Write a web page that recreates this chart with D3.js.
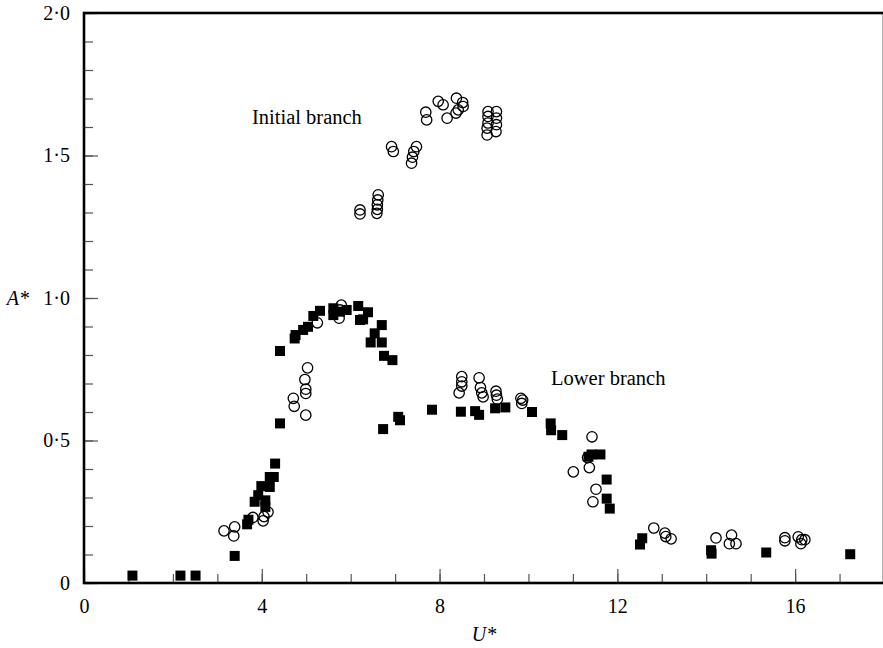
<!DOCTYPE html>
<html>
<head>
<meta charset="utf-8">
<script src="https://cdn.jsdelivr.net/npm/d3@7"></script>
<style>
  body { margin: 0; background: #fff; }
  svg { display: block; font-family: "Liberation Serif", "Times New Roman", serif; }
  .tick line { stroke: #555; stroke-width: 1.2; }
  .domain { display: none; }
</style>
</head>
<body>
<svg id="chart"></svg>
<script>
// filled squares
let sqU = [1.09, 2.17, 2.51, 3.39, 3.67, 3.70, 3.84, 3.92, 3.99, 4.08, 4.08, 4.18, 4.18, 4.27, 4.30, 4.41,
  4.41, 4.74, 4.76, 4.93, 5.04, 5.16, 5.31, 5.61, 5.61, 5.76, 5.91, 6.17, 6.21, 6.28, 6.39, 6.70, 6.54,
  6.45, 6.70, 6.75, 6.94, 6.73, 7.07, 7.11, 7.83, 8.48, 8.80, 8.89, 9.25, 9.48, 10.08, 10.50, 10.51,
  10.76, 11.35, 11.42, 11.62, 11.76, 11.76, 11.83, 12.51, 12.56, 14.11, 14.12, 15.35, 17.24]
let sqA = [0.026, 0.026, 0.026, 0.095, 0.206, 0.222, 0.285, 0.308, 0.34, 0.29, 0.267, 0.337, 0.372, 0.372, 0.419, 0.56,
  0.814, 0.858, 0.87, 0.888, 0.899, 0.937, 0.955, 0.964, 0.94, 0.952, 0.958, 0.972, 0.923, 0.925, 0.95, 0.905, 0.876,
  0.844, 0.844, 0.797, 0.782, 0.54, 0.583, 0.571, 0.608, 0.601, 0.603, 0.59, 0.613, 0.616, 0.60, 0.56, 0.536,
  0.519, 0.443, 0.451, 0.451, 0.363, 0.296, 0.261, 0.135, 0.157, 0.115, 0.103, 0.107, 0.101]

// open circles
let ciU = [3.15, 3.39, 3.37, 3.80, 4.03, 4.05, 4.14, 4.71, 4.73, 4.99, 4.99, 4.99, 4.97, 5.03, 5.25, 5.79, 5.76, 5.74,
  6.21, 6.21, 6.62, 6.61, 6.60, 6.60, 6.59, 6.92, 6.96, 7.48, 7.42, 7.39, 7.37, 7.69, 7.71, 7.97, 8.08, 8.17,
  8.38, 8.37, 8.42, 8.52, 8.53, 9.09, 9.09, 9.09, 9.07, 9.07, 9.28, 9.28, 9.28, 9.27,
  8.50, 8.50, 8.50, 8.44, 8.89, 8.92, 8.95, 8.98, 9.27, 9.28, 9.30, 9.83, 9.87, 9.85,
  11.43, 11.01, 11.37, 11.33, 11.52, 11.45, 12.82, 13.07, 13.09, 13.21, 14.22, 14.57, 14.52, 14.67,
  15.77, 15.77, 16.07, 16.13, 16.22, 16.15]
let ciA = [0.183, 0.197, 0.165, 0.23, 0.218, 0.233, 0.249, 0.648, 0.62, 0.589, 0.665, 0.68, 0.714, 0.755, 0.913, 0.975, 0.958, 0.929,
  1.309, 1.295, 1.362, 1.344, 1.327, 1.311, 1.297, 1.531, 1.514, 1.531, 1.514, 1.494, 1.473, 1.652, 1.625, 1.690, 1.678, 1.631,
  1.701, 1.649, 1.660, 1.686, 1.672, 1.654, 1.637, 1.614, 1.596, 1.572, 1.654, 1.631, 1.608, 1.584,
  0.724, 0.706, 0.691, 0.667, 0.72, 0.686, 0.667, 0.653, 0.673, 0.659, 0.645, 0.648, 0.642, 0.630,
  0.513, 0.39, 0.405, 0.44, 0.329, 0.285, 0.193, 0.175, 0.163, 0.155, 0.158, 0.168, 0.138, 0.138,
  0.159, 0.148, 0.162, 0.138, 0.152, 0.152]

let xMajor = [0, 4, 8, 12, 16]
let yMajor = [0, 0.5, 1.0, 1.5, 2.0]

let width = 883
let height = 648
let plotLeft = 84, plotRight = 884, plotTop = 13, plotBottom = 583

let svg = d3.select('#chart').attr('width', width).attr('height', height)

let xScale = d3.scaleLinear().domain([0, 18]).range([plotLeft, plotRight])
let yScale = d3.scaleLinear().domain([0, 2]).range([plotBottom, plotTop])

let fmt = (v) => v === 0 ? '0' : d3.format('.1f')(v).replace('.', '\u00b7')

// minor ticks
svg.append('g')
    .attr('transform', 'translate(0,' + plotBottom + ')')
    .call(d3.axisBottom(xScale).tickValues(d3.range(0, 19, 1)).tickSize(-9).tickFormat(''))
svg.append('g')
    .attr('transform', 'translate(' + plotLeft + ',0)')
    .call(d3.axisLeft(yScale).tickValues(d3.range(0, 21, 1).map(d => d / 10)).tickSize(-9).tickFormat(''))

// major ticks with labels
svg.append('g')
    .attr('transform', 'translate(0,' + plotBottom + ')')
    .call(d3.axisBottom(xScale).tickValues(xMajor).tickSize(-14).tickPadding(16).tickFormat(d3.format('d')))
svg.append('g')
    .attr('transform', 'translate(' + plotLeft + ',0)')
    .call(d3.axisLeft(yScale).tickValues(yMajor).tickSize(-14).tickPadding(14).tickFormat(fmt))

svg.selectAll('.tick text')
    .attr('font-family', '"Liberation Serif", serif')
    .attr('font-size', 20)
    .attr('fill', '#000')

// frame
svg.append('rect')
    .attr('x', plotLeft).attr('y', plotTop)
    .attr('width', plotRight - plotLeft).attr('height', plotBottom - plotTop)
    .attr('fill', 'none').attr('stroke', '#000').attr('stroke-width', 2.6)

// squares
let sq = 10
svg.append('g').selectAll('rect')
    .data(sqU.map((u, i) => [u, sqA[i]]))
    .enter()
    .append('rect')
    .attr('x', d => xScale(d[0]) - sq / 2)
    .attr('y', d => yScale(d[1]) - sq / 2)
    .attr('width', sq)
    .attr('height', sq)
    .attr('fill', '#000')

// circles
svg.append('g').selectAll('circle')
    .data(ciU.map((u, i) => [u, ciA[i]]))
    .enter()
    .append('circle')
    .attr('cx', d => xScale(d[0]))
    .attr('cy', d => yScale(d[1]))
    .attr('r', 5.2)
    .attr('fill', 'none')
    .attr('stroke', '#000')
    .attr('stroke-width', 1.3)

// annotations
svg.append('text')
    .attr('x', 252).attr('y', 124)
    .attr('font-size', 20.5)
    .text('Initial branch')
svg.append('text')
    .attr('x', 551).attr('y', 385)
    .attr('font-size', 20.5)
    .text('Lower branch')

// axis titles
svg.append('text')
    .attr('x', (plotLeft + plotRight) / 2).attr('y', 641)
    .attr('text-anchor', 'middle')
    .attr('font-size', 20)
    .attr('font-style', 'italic')
    .text('U*')
svg.append('text')
    .attr('x', 29).attr('y', 305)
    .attr('text-anchor', 'end')
    .attr('font-size', 20)
    .attr('font-style', 'italic')
    .text('A*')
</script>
</body>
</html>
